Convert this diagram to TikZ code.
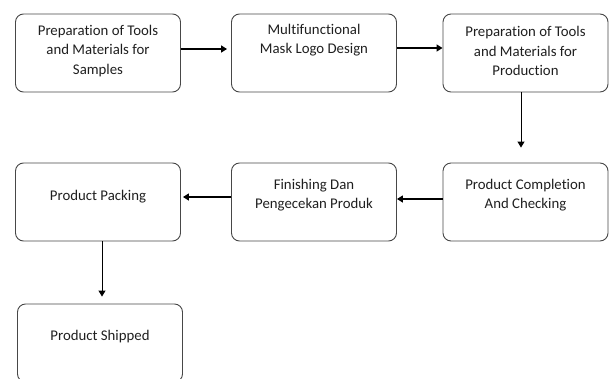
\documentclass[tikz,border=0pt]{standalone}
\usepackage{fontspec}
\setmainfont{Carlito}[Ligatures=NoCommon]
\usetikzlibrary{arrows.meta}
\begin{document}
\begin{tikzpicture}[x=1pt,y=-1pt,
 box/.style={draw=black!72,line width=0.9pt,rounded corners=8pt,minimum width=165pt,minimum height=78pt,inner sep=0pt},
 txt/.style={font=\fontsize{14.8}{19.5}\selectfont,text=black!88,align=center,inner sep=0pt},
 arr/.style={line width=1.3pt,-{Triangle[length=6pt,width=7pt]}},
 varr/.style={line width=1pt,-{Triangle[length=6pt,width=7pt]}}]
\useasboundingbox (0,0) rectangle (610,378);
\begin{scope}
\clip (0,0) rectangle (610,378);
\node[box] (b1) at (98,53) {};
\node[box] (b2) at (314,53) {};
\node[box] (b3) at (525.5,53) {};
\node[box] (b4) at (98,202) {};
\node[box] (b5) at (314,202) {};
\node[box] (b6) at (525.5,202) {};
\node[box] (b7) at (100,343) {};
\end{scope}
\node[txt] (t1) at (98,51) {Preparation of Tools\\and Materials for\\Samples};
\node[txt] (t2) at (314,40) {Multifunctional\\Mask Logo Design};
\node[txt] (t3) at (525.5,51) {Preparation of Tools\\and Materials for\\Production};
\node[txt] (t4) at (98,197) {Product Packing};
\node[txt] (t5) at (314,195) {Finishing Dan\\Pengecekan Produk};
\node[txt] (t6) at (525.5,195) {Product Completion\\And Checking};
\node[txt] (t7) at (100,337) {Product Shipped};
\draw[arr] ([yshift=4pt]b1.east) -- ([xshift=-4pt,yshift=4pt]b2.west);
\draw[arr] ([yshift=5pt]b2.east) -- ([yshift=5pt]b3.west);
\draw[varr] ([xshift=-4.5pt]b3.south) -- ([xshift=-4.5pt,yshift=15pt]b6.north);
\draw[arr] ([yshift=3pt]b6.west) -- ([yshift=3pt]b5.east);
\draw[arr] ([yshift=5pt]b5.west) -- ([xshift=2pt,yshift=5pt]b4.east);
\draw[varr] ([xshift=4pt]b4.south) -- ([xshift=2pt,yshift=7pt]b7.north);
\end{tikzpicture}
\end{document}
